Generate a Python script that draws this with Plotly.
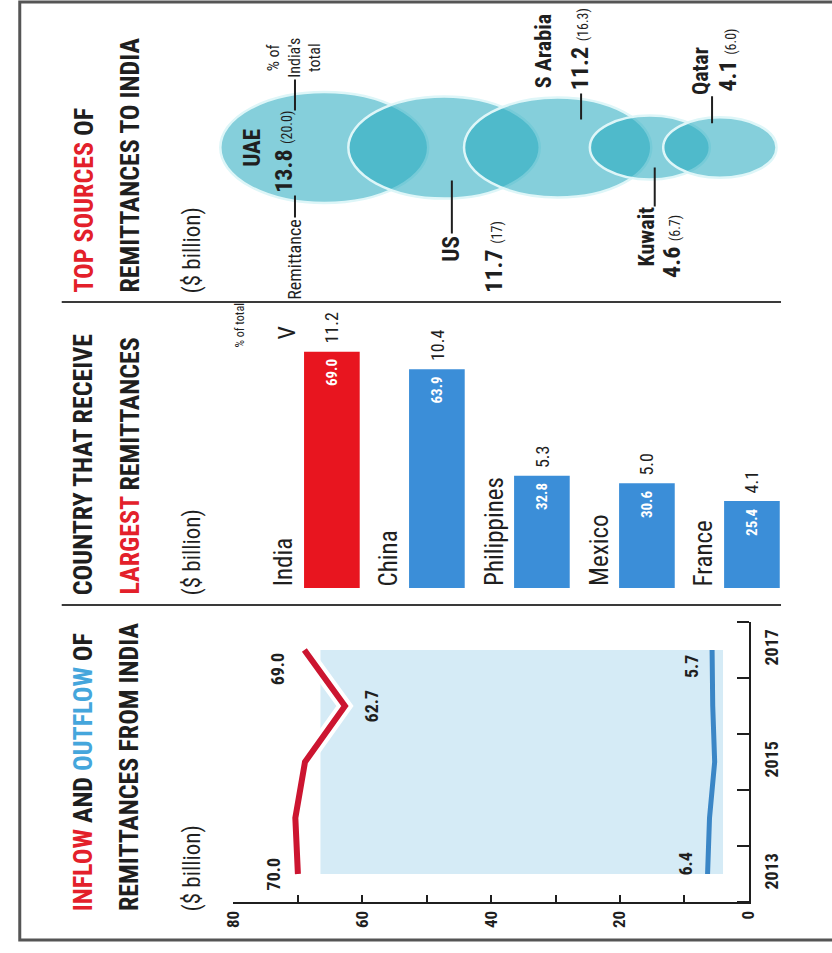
import math
import plotly.graph_objects as go

W, H = 832, 953

# Inflow / outflow of remittances, India ($ billion)
years = [2013, 2014, 2015, 2016, 2017]
inflow = [70.0, 70.4, 68.9, 62.7, 69.0]
outflow = [6.4, 6.1, 5.3, 5.6, 5.7]
value_ticks = [0, 20, 40, 60, 80]
year_ticks = [2013, 2015, 2017]

# Countries receiving the largest remittances ($ billion, % of world total)
recipients = ["India", "China", "Philippines", "Mexico", "France"]
received = [69.0, 63.9, 32.8, 30.6, 25.4]
share_of_total = [11.2, 10.4, 5.3, 5.0, 4.1]

# Top sources of remittances to India ($ billion, % of India's total)
sources = ["UAE", "US", "S Arabia", "Kuwait", "Qatar"]
source_amount = [13.8, 11.7, 11.2, 4.6, 4.1]
source_share = ["20.0", "17", "16.3", "6.7", "6.0"]

NARROW = "Liberation Sans Narrow, Roboto Condensed, DejaVu Sans Condensed, Arial Narrow, sans-serif"
INK = "#1f1f1f"
RED = "#e3202a"
LIGHT_BLUE = "#45a6dc"
BAR_RED = "#e8151f"
BAR_BLUE = "#3b8ed8"
LINE_RED = "#cc1530"
LINE_BLUE = "#3a86c6"
SHADE = "#d5ebf6"
BUBBLE = "rgba(37,169,191,0.56)"
BUBBLE_EDGE = "#def6f8"
RULE = "#3a3a3a"


def px(x):
    return x / W


def py(y):
    return 1 - y / H


annotations = []
shapes = []


def rot_text(text, size, bold=False, color=INK, **kw):
    if bold:
        text = f"<b>{text}</b>"
    d = dict(text=text, showarrow=False, textangle=-90,
             font=dict(family=NARROW, size=size, color=color))
    d.update(kw)
    annotations.append(d)


# ---- frame and panel rules ----
shapes.append(dict(type="rect", xref="paper", yref="paper",
                   x0=px(10), x1=px(850), y0=py(940), y1=py(2),
                   line=dict(color="#555555", width=3), fillcolor="rgba(0,0,0,0)"))
for yy in (302, 605):
    shapes.append(dict(type="line", xref="paper", yref="paper",
                       x0=px(53), x1=px(790), y0=py(yy), y1=py(yy),
                       line=dict(color=RULE, width=2)))

# ---- panel titles ----
panel_titles = [
    (913, f"<span style='color:{RED}'>INFLOW</span> AND <span style='color:{LIGHT_BLUE}'>OUTFLOW</span> OF",
     "REMITTANCES FROM INDIA"),
    (597, "COUNTRY THAT RECEIVE", f"<span style='color:{RED}'>LARGEST</span> REMITTANCES"),
    (295, f"<span style='color:{RED}'>TOP SOURCES</span> OF", "REMITTANCES TO INDIA"),
]
for bottom, line1, line2 in panel_titles:
    rot_text(line1, 26, bold=True, xref="paper", yref="paper", x=px(75), y=py(bottom),
             xanchor="center", yanchor="bottom")
    rot_text(line2, 26, bold=True, xref="paper", yref="paper", x=px(122), y=py(bottom),
             xanchor="center", yanchor="bottom")
    rot_text("($ billion)", 23, xref="paper", yref="paper", x=px(186), y=py(bottom + 1),
             xanchor="center", yanchor="bottom")

# ---- inflow / outflow lines ----
fig = go.Figure()
shapes.append(dict(type="rect", xref="x", yref="y", x0=66.5, x1=4.0,
                   y0=years[0], y1=years[-1], fillcolor=SHADE, line=dict(width=0),
                   layer="below"))
fig.add_trace(go.Scatter(x=inflow, y=years, xaxis="x", yaxis="y", mode="lines",
                         line=dict(color="white", width=14), hoverinfo="skip"))
fig.add_trace(go.Scatter(x=inflow, y=years, xaxis="x", yaxis="y", mode="lines",
                         line=dict(color=LINE_RED, width=6), name="Inflow"))
fig.add_trace(go.Scatter(x=outflow, y=years, xaxis="x", yaxis="y", mode="lines",
                         line=dict(color=LINE_BLUE, width=5), name="Outflow"))

low = inflow.index(min(inflow))
rot_text(f"{inflow[0]:.1f}", 18, bold=True, xref="x", yref="y", x=inflow[0], y=years[0],
         xanchor="right", yanchor="middle", xshift=-12)
rot_text(f"{inflow[-1]:.1f}", 18, bold=True, xref="x", yref="y", x=inflow[-1], y=years[-1],
         xanchor="right", yanchor="top", xshift=-14)
rot_text(f"{inflow[low]:.1f}", 18, bold=True, xref="x", yref="y", x=inflow[low], y=years[low],
         xanchor="left", yanchor="middle", xshift=14)
rot_text(f"{outflow[0]:.1f}", 18, bold=True, xref="x", yref="y", x=outflow[0], y=years[0],
         xanchor="right", yanchor="bottom", xshift=-10, yshift=-4)
rot_text(f"{outflow[-1]:.1f}", 18, bold=True, xref="x", yref="y", x=outflow[-1], y=years[-1],
         xanchor="right", yanchor="top", xshift=-8, yshift=-3)

# ---- largest receivers bars ----
fig.add_trace(go.Bar(x=recipients, y=received, xaxis="x2", yaxis="y2", width=0.53,
                     marker=dict(color=[BAR_RED] + [BAR_BLUE] * (len(recipients) - 1),
                                 line=dict(width=0)),
                     name="Remittances received"))
for name, val, share in zip(recipients, received, share_of_total):
    rot_text(name, 25, xref="x2", yref="y2", x=name, y=0, xanchor="right",
             yanchor="bottom", xshift=-31)
    rot_text(f"{val:.1f}", 15, bold=True, color="white", xref="x2", yref="y2", x=name, y=val,
             xanchor="center", yanchor="top", yshift=-5)
    rot_text(f"{share:.1f}", 18, xref="x2", yref="y2", x=name, y=val,
             xanchor="center", yanchor="bottom", yshift=6)
rot_text("% of total", 12, xref="x2", yref="y2", x=recipients[0], y=received[0],
         xanchor="center", yanchor="middle", xshift=-92, yshift=26)
rot_text("V", 24, xref="x2", yref="y2", x=recipients[0], y=received[0],
         xanchor="center", yanchor="middle", xshift=-45, yshift=19)

# ---- top sources bubbles ----
KX, KY = 28.67, 14.94          # pixels per radius unit along x and y
BX0, BX1, BY0, BY1 = 200, 832, 60, 235
radii = [math.sqrt(v) for v in source_amount]
centers = [(322 - BX0) / KX]
for i in range(1, len(radii)):
    centers.append(centers[-1] + 0.6 * (radii[i - 1] + radii[i]))

fig.add_trace(go.Scatter(x=centers, y=[0] * len(centers), xaxis="x3", yaxis="y3",
                         mode="markers", marker=dict(size=2, opacity=0),
                         text=[f"{s}: {a}" for s, a in zip(sources, source_amount)],
                         hoverinfo="text"))
for c, r in zip(centers, radii):
    shapes.append(dict(type="circle", xref="x3", yref="y3", x0=c - r, x1=c + r,
                       y0=-r, y1=r, fillcolor=BUBBLE,
                       line=dict(color=BUBBLE_EDGE, width=2.5)))


def connector(i, dx, dy0, dy1):
    x = centers[i] + dx / KX
    shapes.append(dict(type="line", xref="x3", yref="y3", x0=x, x1=x,
                       y0=-dy0 / KY, y1=-dy1 / KY, line=dict(color=INK, width=2)))


def bubble_label(i, text, size, dx, dy, xanchor="center", yanchor="middle", bold=False, **kw):
    rot_text(text, size, bold=bold, xref="x3", yref="y3", x=centers[i], y=0,
             xshift=dx, yshift=-dy, xanchor=xanchor, yanchor=yanchor, **kw)


def amount_text(i):
    return (f"<b>{source_amount[i]:.1f}</b> "
            f"<span style='font-size:14px'>({source_share[i]})</span>")


ry = [r * KY for r in radii]

# UAE, labelled inside
bubble_label(0, sources[0], 23, -72, 0, bold=True)
bubble_label(0, amount_text(0), 24, -40, 4)
connector(0, -30, 48, 70)
bubble_label(0, "Remittance", 18, -30, 70, yanchor="top")
connector(0, -30, -37, -68)
bubble_label(0, "% of<br>India's<br>total", 16, -30, -68, yanchor="bottom", align="center")

# US, below
connector(1, 8, ry[1] - 18, ry[1] + 35)
bubble_label(1, sources[1], 23, 8, ry[1] + 35, yanchor="top", bold=True)
bubble_label(1, amount_text(1), 24, 50, ry[1] + 20, yanchor="top")

# S Arabia, above
connector(2, 24, -(ry[2] - 22), -(ry[2] + 4))
bubble_label(2, sources[2], 22, -14, -(ry[2] + 7), yanchor="bottom", bold=True)
bubble_label(2, amount_text(2), 24, 22, -(ry[2] + 5), yanchor="bottom")

# Kuwait, below
connector(3, 5, ry[3] - 12, ry[3] + 27)
bubble_label(3, sources[3], 22, -3, ry[3] + 25, yanchor="top", bold=True)
bubble_label(3, amount_text(3), 24, 22, ry[3] + 33, yanchor="top")

# Qatar, above
connector(4, -8, -(ry[4] - 6), -(ry[4] + 21))
bubble_label(4, sources[4], 22, -20, -(ry[4] + 20), yanchor="bottom", bold=True)
bubble_label(4, amount_text(4), 24, 8, -(ry[4] + 24), yanchor="bottom")

# ---- axes ----
tickfont = dict(family=NARROW, size=17, color=INK, weight="bold")
fig.update_layout(
    width=W, height=H,
    margin=dict(l=0, r=0, t=0, b=0),
    paper_bgcolor="white", plot_bgcolor="rgba(0,0,0,0)",
    showlegend=False,
    xaxis=dict(domain=[px(229), px(757)], range=[80, 0], anchor="y",
               tickmode="array", tickvals=value_ticks, tickangle=-90, tickfont=tickfont,
               ticks="inside", ticklen=7, tickwidth=2, tickcolor=INK,
               minor=dict(tickmode="array", tickvals=[10, 30, 50, 70], ticks="inside",
                          ticklen=7, tickwidth=2, tickcolor=INK),
               showline=True, linecolor=INK, linewidth=2,
               showgrid=False, zeroline=False, fixedrange=True),
    yaxis=dict(domain=[py(902), py(622)], range=[years[0] - 0.5, years[-1] + 0.5],
               anchor="x", side="right",
               tickmode="array", tickvals=year_ticks, tickangle=-90,
               tickfont=dict(family=NARROW, size=18, color=INK, weight="bold"), ticks="",
               ticklabelstandoff=6,
               minor=dict(tickmode="array", tickvals=[y - 0.5 for y in years] + [years[-1] + 0.5],
                          ticks="inside", ticklen=12, tickwidth=2, tickcolor=INK),
               showline=True, linecolor=INK, linewidth=2,
               showgrid=False, zeroline=False, fixedrange=True),
    xaxis2=dict(domain=[px(276), px(814)], anchor="y2", type="category",
                range=[-0.5, len(recipients) - 0.5], visible=False, fixedrange=True),
    yaxis2=dict(domain=[py(588), py(588 - 75 * 3.425)], anchor="x2", range=[0, 75],
                visible=False, fixedrange=True),
    xaxis3=dict(domain=[px(BX0), px(BX1)], anchor="y3", range=[0, (BX1 - BX0) / KX],
                visible=False, fixedrange=True),
    yaxis3=dict(domain=[py(BY1), py(BY0)], anchor="x3",
                range=[-(BY1 - BY0) / 2 / KY, (BY1 - BY0) / 2 / KY],
                visible=False, fixedrange=True),
    annotations=annotations,
    shapes=shapes,
)

fig.write_html("out.html")
